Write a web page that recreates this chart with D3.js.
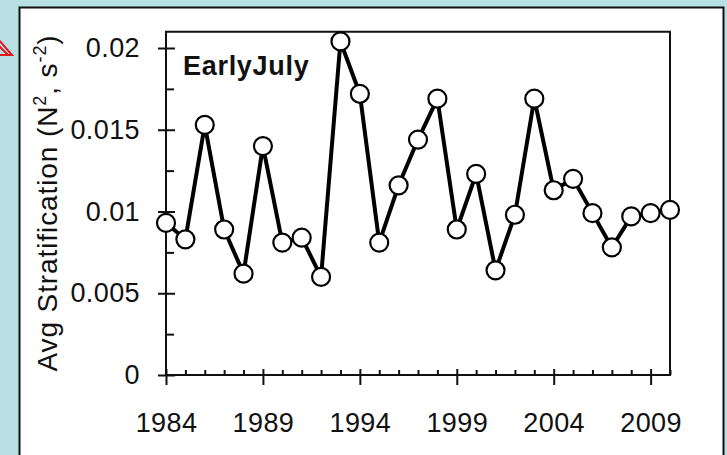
<!DOCTYPE html>
<meta charset="utf-8">
<script src="https://d3js.org/d3.v7.min.js"></script>
<style>
  body { margin: 0; background: #b8dfe4; }
  text { font-family: "Liberation Sans", Arial, sans-serif; fill: #111; }
</style>
<div id="chart"></div>
<script>
  // values
  var years = d3.range(1984, 2011);
  var strat = [0.0093, 0.0083, 0.0153, 0.0089, 0.0062, 0.0140, 0.0081, 0.0084, 0.0060,
               0.0204, 0.0172, 0.0081, 0.0116, 0.0144, 0.0169, 0.0089, 0.0123, 0.0064,
               0.0098, 0.0169, 0.0113, 0.0120, 0.0099, 0.0078, 0.0097, 0.0099, 0.0101];
  var yTicks = [0, 0.005, 0.01, 0.015, 0.02];
  var yTickLabels = ["0", "0.005", "0.01", "0.015", "0.02"];
  var xTicks = [1984, 1989, 1994, 1999, 2004, 2009];
  var panelTitle = "EarlyJuly";

  var W = 727, H = 455;
  var svg = d3.select("#chart").append("svg")
      .attr("width", W)
      .attr("height", H);

  svg.append("rect")
      .attr("width", W).attr("height", H)
      .attr("fill", "#b8dfe4");

  // white panel behind the figure
  svg.append("rect")
      .attr("x", 19.5).attr("y", 7.5)
      .attr("width", 704).attr("height", 470)
      .attr("fill", "#fff")
      .attr("stroke", "#111")
      .attr("stroke-width", 2);

  // red arrow at the left edge
  svg.append("path")
      .attr("d", "M-2,39 L12,55 L-2,55 Z M-2,45 L8,55")
      .attr("fill", "none")
      .attr("stroke", "#e8141a")
      .attr("stroke-width", 2);

  var x = d3.scaleLinear().domain([1984, 2010]).range([166, 670]);
  var y = d3.scaleLinear().domain([0, 0.02]).range([375, 48]);
  var frameTop = y(0.021);

  // frame
  svg.append("path")
      .attr("d", "M" + x(1984) + "," + y(0) + " V" + frameTop + " H" + x(2010) + " V" + y(0) + " H" + x(1984))
      .attr("fill", "none")
      .attr("stroke", "#111")
      .attr("stroke-width", 2);

  // x axis: major ticks crossing the axis, minor ticks inside
  var xMinor = svg.append("g")
      .attr("transform", "translate(0," + y(0) + ")")
      .call(d3.axisBottom(x).tickValues(years.filter(function(d) { return xTicks.indexOf(d) < 0; }))
        .tickSize(-5).tickFormat(""));
  var xMajor = svg.append("g")
      .attr("transform", "translate(0," + y(0) + ")")
      .call(d3.axisBottom(x).tickValues(xTicks).tickSize(10).tickPadding(28).tickFormat(d3.format("d")));
  xMajor.selectAll(".tick line").attr("y1", -6);

  // y axis
  var yMinorVals = [0.0025, 0.0075, 0.0125, 0.0175];
  var yMinor = svg.append("g")
      .attr("transform", "translate(" + x(1984) + ",0)")
      .call(d3.axisLeft(y).tickValues(yMinorVals).tickSize(-8).tickFormat(""));
  var yMajor = svg.append("g")
      .attr("transform", "translate(" + x(1984) + ",0)")
      .call(d3.axisLeft(y).tickValues(yTicks).tickSize(8).tickPadding(18)
        .tickFormat(function(d, i) { return yTickLabels[i]; }));
  yMajor.selectAll(".tick line").attr("x1", 9);

  [xMinor, xMajor, yMinor, yMajor].forEach(function(g) {
    g.select(".domain").remove();
    g.selectAll(".tick line").attr("stroke", "#111").attr("stroke-width", 2);
    g.selectAll(".tick text")
      .style("font-family", "'Liberation Sans', Arial, sans-serif")
      .style("font-size", "27px")
      .style("letter-spacing", "0.4px")
      .attr("fill", "#111");
  });

  // series
  var pts = years.map(function(d, i) { return [d, strat[i]]; });
  svg.append("path")
      .datum(pts)
      .attr("fill", "none")
      .attr("stroke", "#000")
      .attr("stroke-width", 4)
      .attr("stroke-linejoin", "round")
      .attr("d", d3.line()
        .x(function(d) { return x(d[0]); })
        .y(function(d) { return y(d[1]); }));

  svg.selectAll("circle.pt")
      .data(pts)
      .enter().append("circle")
      .attr("class", "pt")
      .attr("cx", function(d) { return x(d[0]); })
      .attr("cy", function(d) { return y(d[1]); })
      .attr("r", 9)
      .attr("fill", "#fff")
      .attr("stroke", "#000")
      .attr("stroke-width", 2.2);

  svg.append("text")
      .attr("x", 183).attr("y", 75)
      .style("font-size", "27px")
      .style("font-weight", "bold")
      .style("letter-spacing", "0.7px")
      .text(panelTitle);

  // y label with superscripts
  var yl = svg.append("text")
      .attr("transform", "translate(57,203) rotate(-90)")
      .attr("text-anchor", "middle")
      .style("font-size", "28px")
      .style("letter-spacing", "0.9px");
  yl.append("tspan").text("Avg Stratification (N");
  yl.append("tspan").attr("dy", -11).style("font-size", "18px").text("2");
  yl.append("tspan").attr("dy", 11).text(", s");
  yl.append("tspan").attr("dy", -11).style("font-size", "18px").text("-2");
  yl.append("tspan").attr("dy", 11).text(")");
</script>
